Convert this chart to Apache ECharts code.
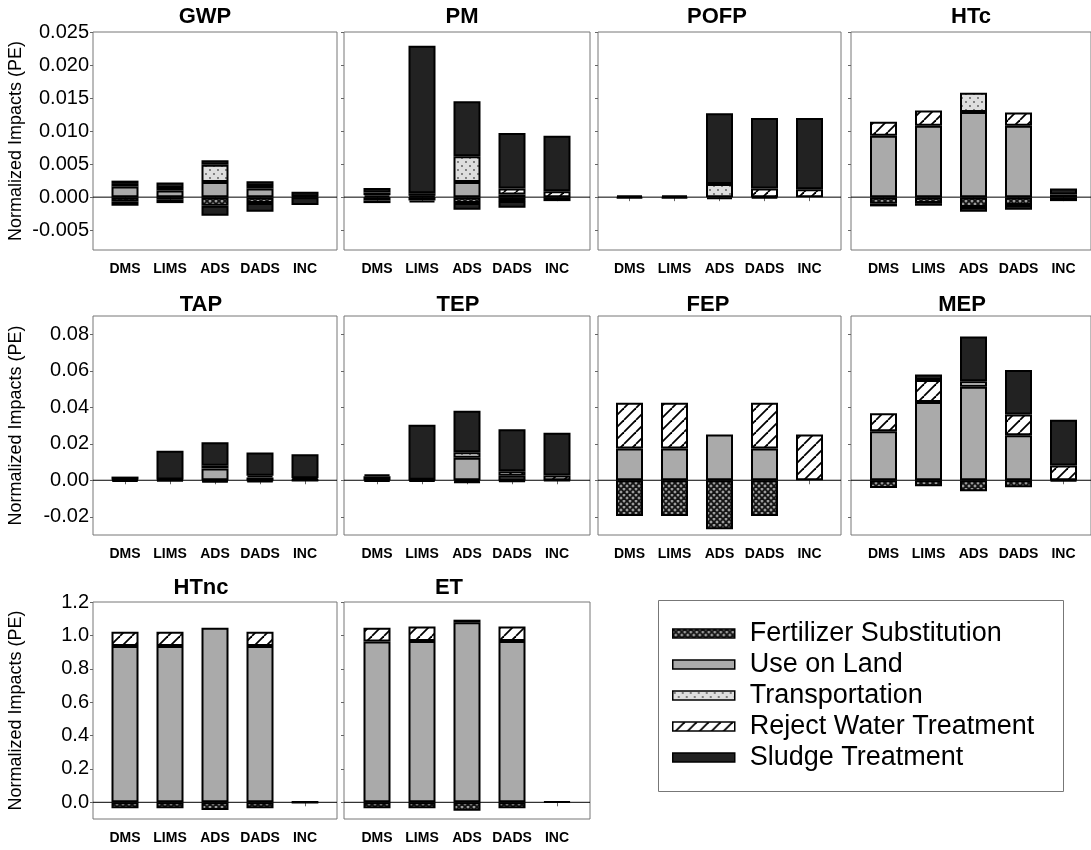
<!DOCTYPE html>
<html>
<head>
<meta charset="utf-8">
<script src="https://cdn.jsdelivr.net/npm/echarts@6/dist/echarts.min.js"></script>
<style>
  html, body { margin: 0; padding: 0; background: #fff; }
  #chart { width: 1091px; height: 850px; }
</style>
</head>
<body>
<div id="chart"></div>
<script>
// categories and panels
const categories = ["DMS", "LIMS", "ADS", "DADS", "INC"];
const panels = ["GWP", "PM", "POFP", "HTc", "TAP", "TEP", "FEP", "MEP", "HTnc", "ET"];
const seriesNames = ["Fertilizer Substitution", "Use on Land", "Transportation", "Reject Water Treatment", "Sludge Treatment"];

// values, one list per panel, order = categories
const fertilizer = {
  GWP:  [-0.0007, -0.0004, -0.0013, -0.0009, 0],
  PM:   [-0.0005, -0.0005, -0.0009, -0.0006, 0],
  POFP: [0, 0, 0, 0, 0],
  HTc:  [-0.0010, -0.0009, -0.0015, -0.0012, 0],
  TAP:  [0, 0, -0.0005, -0.0003, 0],
  TEP:  [0, 0, -0.0008, -0.0003, 0],
  FEP:  [-0.0196, -0.0196, -0.0269, -0.0196, 0],
  MEP:  [-0.0042, -0.0033, -0.0060, -0.0039, 0],
  HTnc: [-0.036, -0.036, -0.046, -0.036, 0],
  ET:   [-0.036, -0.036, -0.050, -0.036, 0]
};
const useOnLand = {
  GWP:  [0.0016, 0.0010, 0.0023, 0.0013, 0],
  PM:   [0.0003, 0.0002, 0.0023, 0.0004, 0],
  POFP: [0, 0, 0, 0, 0],
  HTc:  [0.0093, 0.0108, 0.0129, 0.0108, 0],
  TAP:  [0.0004, 0.0004, 0.0065, 0.0015, 0.0003],
  TEP:  [0.0022, 0.0003, 0.0123, 0.0024, 0],
  FEP:  [0.0174, 0.0174, 0.0251, 0.0174, 0],
  MEP:  [0.0268, 0.0429, 0.0512, 0.0246, 0],
  HTnc: [0.937, 0.937, 1.046, 0.937, 0],
  ET:   [0.963, 0.967, 1.078, 0.967, 0]
};
const transportation = {
  GWP:  [0, 0, 0.0026, 0, 0],
  PM:   [0, 0, 0.0039, 0, 0],
  POFP: [0, 0, 0.0020, 0, 0],
  HTc:  [0, 0, 0.0029, 0, 0],
  TAP:  [0, 0, 0.0015, 0, 0],
  TEP:  [0, 0, 0.0030, 0, 0],
  FEP:  [0, 0, 0, 0, 0],
  MEP:  [0, 0, 0.0031, 0, 0],
  HTnc: [0, 0, 0, 0, 0],
  ET:   [0, 0, 0.016, 0, 0]
};
const rejectWater = {
  GWP:  [0.0004, 0.0004, 0, 0.0004, 0.0001],
  PM:   [0.0004, 0.0004, 0, 0.0009, 0.0009],
  POFP: [0, 0, 0, 0.0013, 0.0012],
  HTc:  [0.0021, 0.0023, 0, 0.0020, 0.0004],
  TAP:  [0, 0, 0, 0.0010, 0.0008],
  TEP:  [0, 0, 0, 0.0026, 0.0026],
  FEP:  [0.0250, 0.0250, 0, 0.0250, 0.0251],
  MEP:  [0.0099, 0.0120, 0, 0.0114, 0.0081],
  HTnc: [0.085, 0.085, 0, 0.085, 0],
  ET:   [0.082, 0.086, 0, 0.086, 0]
};
const sludge = {
  GWP:  [0.0005, 0.0008, 0.0007, 0.0007, 0.0007],
  PM:   [0.0007, 0.0223, 0.0083, 0.0084, 0.0084],
  POFP: [0.0003, 0.0003, 0.0107, 0.0107, 0.0108],
  HTc:  [0, 0, 0, 0, 0.0009],
  TAP:  [0.0016, 0.0157, 0.0128, 0.0127, 0.0131],
  TEP:  [0.0010, 0.0301, 0.0228, 0.0230, 0.0234],
  FEP:  [0, 0, 0, 0, 0],
  MEP:  [0, 0.0031, 0.0244, 0.0244, 0.0251],
  HTnc: [0, 0, 0, 0, 0.003],
  ET:   [0, 0, 0, 0, 0.005]
};
// negative part of sludge treatment (credits)
const sludgeNeg = {
  GWP:  [-0.0006, -0.0005, -0.0015, -0.0013, -0.0012],
  PM:   [-0.0004, -0.0003, -0.0010, -0.0010, -0.0006],
  POFP: [-0.0002, -0.0002, -0.0003, -0.0002, 0],
  HTc:  [-0.0004, -0.0004, -0.0007, -0.0007, -0.0006],
  TAP:  [-0.0008, -0.0005, -0.0007, -0.0008, -0.0002],
  TEP:  [-0.0008, -0.0008, -0.0005, -0.0005, -0.0004],
  FEP:  [0, 0, 0, 0, 0],
  MEP:  [0, 0, 0, 0, -0.0005],
  HTnc: [0, 0, 0, 0, -0.002],
  ET:   [0, 0, 0, 0, 0]
};

// y scales per row and their tick labels
const rowMin = [-0.008, -0.03, -0.1];
const rowMax = [0.025, 0.09, 1.2];
const rowTicks = [
  [-0.005, 0, 0.005, 0.01, 0.015, 0.02, 0.025],
  [-0.02, 0, 0.02, 0.04, 0.06, 0.08],
  [0, 0.2, 0.4, 0.6, 0.8, 1.0, 1.2]
];
const rowDecimals = [3, 2, 1];

// layout
const colLeft = [93, 344, 598, 851];
const colWidth = [244, 246, 243, 245];
const rowTop = [32, 316, 602];
const rowHeight = [218, 219, 217];
const titleX = [205, 462, 717, 971, 201, 458, 708, 962, 201, 449];
const titleY = [17, 305, 588];
const FONT = "'Liberation Sans', Arial, Helvetica, sans-serif";

function makeTile(w, h, draw) {
  const c = document.createElement("canvas");
  c.width = w; c.height = h;
  draw(c.getContext("2d"));
  return c;
}
const fertTile = makeTile(6, 6, function (ctx) {
  ctx.fillStyle = "#a0a0a0"; ctx.fillRect(0, 0, 6, 6);
  ctx.strokeStyle = "#141414"; ctx.lineWidth = 1.8;
  [-6, 0, 6].forEach(function (k) {
    ctx.beginPath(); ctx.moveTo(k, 0); ctx.lineTo(k + 6, 6); ctx.stroke();
    ctx.beginPath(); ctx.moveTo(k + 6, 0); ctx.lineTo(k, 6); ctx.stroke();
  });
});
const transTile = makeTile(8, 8, function (ctx) {
  ctx.fillStyle = "#dedede"; ctx.fillRect(0, 0, 8, 8);
  ctx.fillStyle = "#555";
  [[2, 2], [6, 6]].forEach(function (p) {
    ctx.beginPath(); ctx.arc(p[0], p[1], 0.9, 0, Math.PI * 2); ctx.fill();
  });
});
const rejectTile = makeTile(12, 12, function (ctx) {
  ctx.fillStyle = "#fff"; ctx.fillRect(0, 0, 12, 12);
  ctx.strokeStyle = "#000"; ctx.lineWidth = 1.8;
  [-12, 0, 12].forEach(function (k) {
    ctx.beginPath(); ctx.moveTo(k, 12); ctx.lineTo(k + 12, 0); ctx.stroke();
  });
});

const fills = [
  { image: fertTile, repeat: "repeat" },
  "#aaaaaa",
  { image: transTile, repeat: "repeat" },
  { image: rejectTile, repeat: "repeat" },
  "#222222",
  "#222222"
];
const sources = [fertilizer, useOnLand, transportation, rejectWater, sludge, sludgeNeg];
const names = seriesNames.concat(["Sludge Treatment"]);

const grid = [], xAxis = [], yAxis = [], series = [], graphic = [];

panels.forEach(function (p, i) {
  const row = Math.floor(i / 4), col = i % 4;
  const L = colLeft[col], W = colWidth[col], T = rowTop[row], H = rowHeight[row];
  const inset = (W - 225) / 2;
  const fg = i * 2, dg = i * 2 + 1;

  // frame grid (box + zero line)
  grid.push({ left: L, top: T, width: W, height: H, show: true,
    borderColor: "#777", borderWidth: 1, backgroundColor: "transparent" });
  xAxis.push({ gridIndex: fg, type: "value", min: 0, max: 1, show: false });
  yAxis.push({ gridIndex: fg, type: "value", min: rowMin[row], max: rowMax[row], show: false });
  series.push({ type: "line", xAxisIndex: fg, yAxisIndex: fg, data: [[0, 0], [1, 0]],
    symbol: "none", silent: true, z: 1, lineStyle: { color: "#000", width: 1 } });

  // data grid
  grid.push({ left: L + inset, top: T, width: 225, height: H });
  xAxis.push({
    gridIndex: dg, type: "category", data: categories, boundaryGap: true,
    axisLine: { show: false },
    axisTick: { show: true, alignWithLabel: true, length: 4, lineStyle: { color: "#666" } },
    axisLabel: { margin: 12, fontSize: 14, fontWeight: "bold", color: "#000", fontFamily: FONT, interval: 0 }
  });
  const dec = rowDecimals[row];
  yAxis.push({
    gridIndex: dg, type: "value", min: rowMin[row], max: rowMax[row], offset: inset,
    axisLine: { show: false },
    splitLine: { show: false },
    axisTick: { show: true, length: 3, customValues: rowTicks[row], lineStyle: { color: "#666" } },
    axisLabel: { show: col === 0, customValues: rowTicks[row], margin: 4, fontSize: 20,
      color: "#000", fontFamily: FONT, formatter: function (v) { return v.toFixed(dec); } },
    name: col === 0 ? "Normalized Impacts (PE)" : "",
    nameLocation: "middle", nameGap: 68,
    nameTextStyle: { fontSize: 18, color: "#000", fontFamily: FONT }
  });

  sources.forEach(function (src, s) {
    series.push({
      name: names[s], type: "bar", xAxisIndex: dg, yAxisIndex: dg, stack: "p" + i,
      barWidth: 27, z: 2,
      itemStyle: { color: fills[s], borderColor: "#000", borderWidth: 2 },
      data: src[p].map(function (v) { return v === 0 ? "-" : v; })
    });
  });

  graphic.push({ type: "text", x: titleX[i], y: titleY[row], z: 10,
    style: { text: p, align: "center", verticalAlign: "middle",
      font: "bold 22px " + FONT, fill: "#000" } });
});

graphic.push({ type: "rect", z: 0, shape: { x: 658.5, y: 600.5, width: 405, height: 191 },
  style: { fill: "none", stroke: "#777", lineWidth: 1 } });

const chart = echarts.init(document.getElementById("chart"));
chart.setOption({
  animation: false,
  backgroundColor: "#fff",
  grid: grid,
  xAxis: xAxis,
  yAxis: yAxis,
  series: series,
  graphic: graphic,
  legend: {
    data: seriesNames, orient: "vertical", left: 672, top: 620, padding: 0,
    itemWidth: 62, itemHeight: 9, itemGap: 4, icon: "rect", selectedMode: false,
    itemStyle: { borderColor: "#000", borderWidth: 1.5 },
    textStyle: { fontSize: 27, color: "#000", fontFamily: FONT, padding: [0, 0, 0, 10] }
  }
});
</script>
</body>
</html>
